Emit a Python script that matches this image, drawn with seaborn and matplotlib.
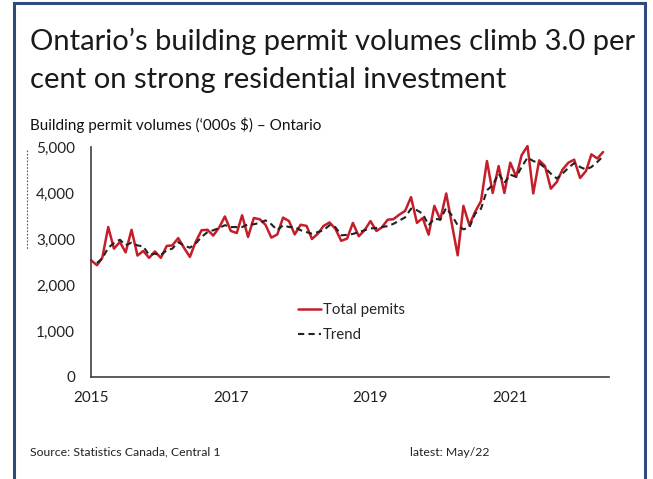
import numpy as np
import pandas as pd
import matplotlib
matplotlib.use("Agg")
import matplotlib.pyplot as plt
from matplotlib.lines import Line2D
from matplotlib.patches import Rectangle
import matplotlib.ticker as mticker
import seaborn as sns

# ---- data (monthly, Jan 2015 - May 2022) ----
total_permits = [
    2540, 2430, 2590, 3260, 2790, 2935, 2710, 3200, 2640, 2740,
    2590, 2730, 2590, 2850, 2860, 3020, 2810, 2610, 2935, 3190,
    3200, 3075, 3250, 3490, 3175, 3130, 3515, 3045, 3455, 3430,
    3310, 3030, 3100, 3465, 3390, 3100, 3310, 3285, 3000, 3115,
    3285, 3360, 3225, 2960, 3010, 3350, 3060, 3190, 3390, 3175,
    3250, 3420, 3430, 3530, 3610, 3910, 3350, 3455, 3095, 3720,
    3420, 3990, 3335, 2645, 3720, 3300, 3590, 3825, 4695, 4000,
    4585, 4000, 4660, 4350, 4820, 5020, 3990, 4710, 4590, 4095,
    4240, 4510, 4660, 4725, 4325, 4480, 4840, 4750, 4890,
]
trend = [
    np.nan, 2480, 2575, 2810, 2910, 2985, 2865, 2920, 2860, 2840,
    2650, 2680, 2650, 2755, 2790, 2930, 2860, 2810, 2900, 3045,
    3150, 3190, 3240, 3300, 3260, 3260, 3260, 3320, 3320, 3350,
    3405, 3320, 3190, 3300, 3260, 3260, 3190, 3150, 3115, 3150,
    3190, 3300, 3260, 3080, 3090, 3110, 3150, 3190, 3230, 3240,
    3260, 3280, 3330, 3400, 3470, 3660, 3625, 3550, 3300, 3445,
    3420, 3675, 3515, 3300, 3210, 3250, 3550, 3660, 4060, 4170,
    4420, 4220, 4400, 4350, 4565, 4770, 4695, 4650, 4550, 4420,
    4315, 4420, 4550, 4650, 4565, 4510, 4565, 4675, 4800,
]
dates = pd.date_range("2015-01-01", periods=len(total_permits), freq="MS")
year_ticks = [2015, 2016, 2017, 2018, 2019, 2020, 2021, 2022]
year_labels = ["2015", "", "2017", "", "2019", "", "2021", ""]
y_ticks = [0, 1000, 2000, 3000, 4000, 5000]

title_line1 = "Ontario\u2019s building permit volumes climb 3.0 per"
title_line2 = "cent on strong residential investment"
subtitle_text = "Building permit volumes (\u2018000s $) \u2013 Ontario"
source_text = "Source: Statistics Canada, Central 1"
latest_text = "latest: May/22"
series_names = ["Total pemits", "Trend"]

df = pd.DataFrame({"date": dates, "Total pemits": total_permits, "Trend": trend})

sns.set_theme(style="white")
plt.rcParams["font.family"] = ["Lato", "DejaVu Sans"]

W, H = 653, 479
fig = plt.figure(figsize=(W / 100, H / 100), dpi=100)
ax = fig.add_axes([91 / W, 1 - 377 / H, (609 - 91) / W, (377 - 147) / H])

sns.lineplot(data=df, x="date", y="Total pemits", ax=ax, color="#C41E2A",
             linewidth=1.8, label=series_names[0], clip_on=False)
sns.lineplot(data=df, x="date", y="Trend", ax=ax, color="#222222",
             linewidth=1.5, linestyle=(0, (3, 2)), label=series_names[1])

ax.set_ylim(0, 5000)
ax.set_xlim(pd.Timestamp("2015-01-01"), pd.Timestamp("2022-06-01"))
ax.set_yticks(y_ticks)
ax.yaxis.set_major_formatter(mticker.FuncFormatter(lambda v, p: f"{int(v):,}"))
ax.set_xticks([pd.Timestamp(f"{y}-01-01") for y in year_ticks])
ax.set_xticklabels(year_labels)
ax.set_xlabel("")
ax.set_ylabel("")

for s in ["top", "right"]:
    ax.spines[s].set_visible(False)
for s in ["left", "bottom"]:
    ax.spines[s].set_color("#404040")
    ax.spines[s].set_linewidth(1.2)
ax.tick_params(axis="both", which="major", direction="out", length=4,
               width=1.1, color="#404040", labelsize=11, labelcolor="#222222")
ax.tick_params(axis="x", pad=6)
ax.tick_params(axis="y", pad=7.5)

leg = ax.legend(loc="upper left", bbox_to_anchor=((298 - 91) / 518, (377 - 303) / 230),
                frameon=False, fontsize=10.8, handlelength=1.5, handletextpad=0.15,
                labelspacing=0.75, borderpad=0, borderaxespad=0)

# texts
fig.text(30 / W, 1 - 50 / H, title_line1, fontsize=21, color="#1a1a1a",
         va="baseline", ha="left")
fig.text(30 / W, 1 - 88 / H, title_line2, fontsize=21, color="#1a1a1a",
         va="baseline", ha="left")
fig.text(30 / W, 1 - 130 / H, subtitle_text, fontsize=11, color="#111111",
         va="baseline", ha="left")
fig.text(30 / W, 1 - 452 / H, source_text, fontsize=8.8, color="#222222",
         va="center", ha="left")
fig.text(410 / W, 1 - 452 / H, latest_text, fontsize=8.8, color="#222222",
         va="center", ha="left")

# frame border
fig.add_artist(Rectangle((14 / W, -0.05), (645 - 14) / W, 1.05 - 3.5 / H,
                         transform=fig.transFigure, fill=False,
                         edgecolor="#2F4B7C", linewidth=2.2))
# small dotted mark at left
fig.add_artist(Line2D([27 / W, 27 / W], [1 - 150 / H, 1 - 250 / H],
                      transform=fig.transFigure, color="#555555",
                      linewidth=0.8, linestyle=(0, (1.5, 1.5))))

fig.savefig("out.png", dpi=100)
